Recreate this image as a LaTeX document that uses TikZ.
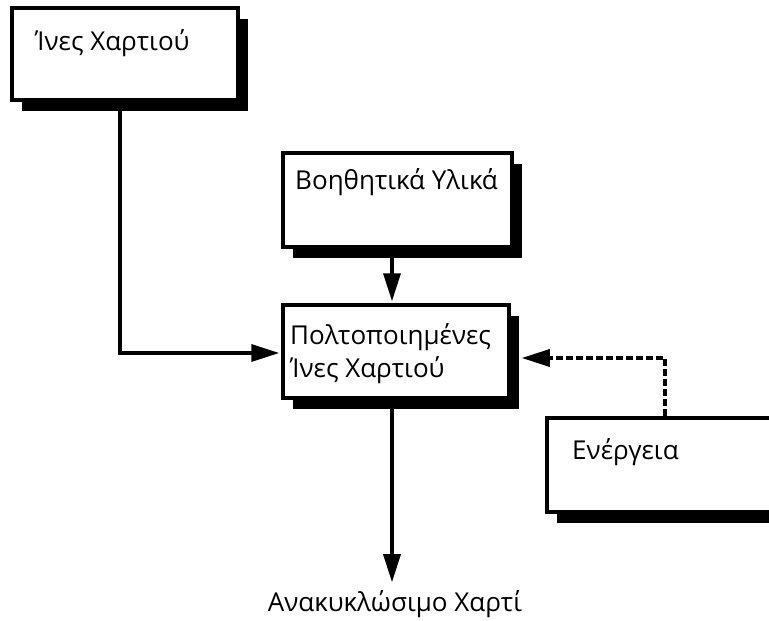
\documentclass[tikz,border=0pt]{standalone}
\usepackage{fontspec}
\setmainfont{Open Sans}
\usetikzlibrary{arrows.meta,shadows,calc}
\begin{document}
\begin{tikzpicture}[x=1pt,y=-1pt,
  box/.style={draw=black, line width=3.5pt, fill=white, rectangle, inner sep=0pt,
    drop shadow={shadow xshift=10pt, shadow yshift=-11pt, fill=black, opacity=1}},
  lbl/.style={font=\fontsize{26}{33}\selectfont, inner sep=0pt, anchor=west, align=left},
  arr/.style={line width=3.5pt, -{Triangle[length=28pt,width=17pt]}},
  darr/.style={arr, dash pattern=on 7pt off 3pt}]
\useasboundingbox (0,0) rectangle (769,621);
\clip (0,0) rectangle (769,621);
\fill[white] (0,0) rectangle (769,621);
% boxes
\node[box, minimum width=226pt, minimum height=92pt] (b1) at (125,54) {};
\node[box, minimum width=229pt, minimum height=94pt] (b2) at (397.5,200) {};
\node[box, minimum width=226pt, minimum height=93pt] (b3) at (396,351.5) {};
\node[box, minimum width=253pt, minimum height=94pt] (b4) at (673.5,465) {};
% texts
\node[lbl] (t1) at (35,43) {Ίνες Χαρτιού};
\node[lbl] (t2) at (295,182) {Βοηθητικά Υλικά};
\node[lbl] (t3) at (290,353.5) {Πολτοποιημένες\\Ίνες Χαρτιού};
\node[lbl] (t4) at (572,452) {Ενέργεια};
\node[lbl, anchor=center, inner sep=0pt] (out) at (395,604) {Ανακυκλώσιμο Χαρτί};
% connectors
\draw[arr] ($(b1.south)+(-5,0)$) |- ($(b3.west)+(-2,1.5)$);
\draw[arr] ($(b2.south)+(-5.5,0)$) -- ($(b3.north)+(-4,-2)$);
\draw[darr] ($(b4.north)+(-8.5,0)$) |- ($(b3.east)+(11,6.5)$);
\draw[arr] ($(b3.south)+(-4,0)$) -- ($(out.north)+(-3,-8)$);
\end{tikzpicture}
\end{document}
